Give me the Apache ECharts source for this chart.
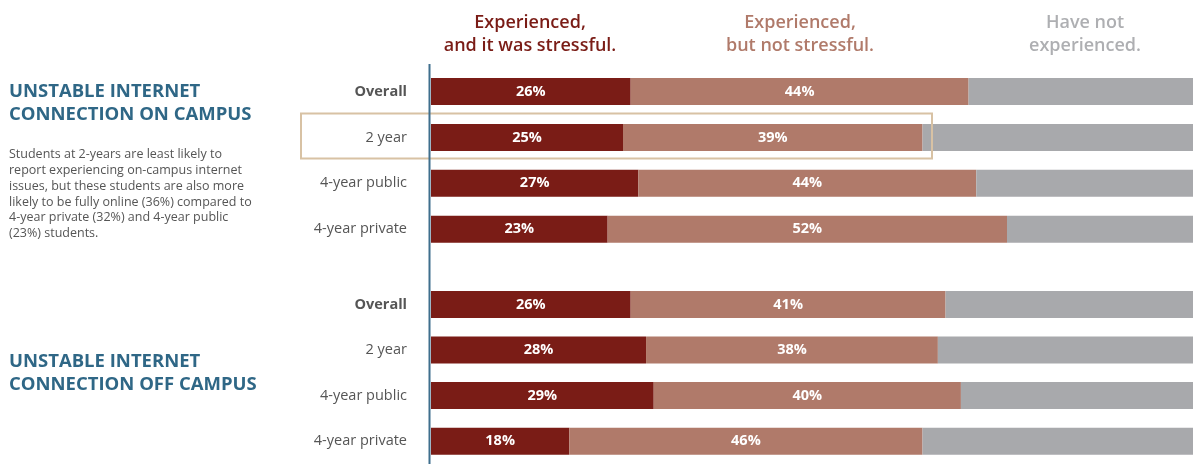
<!DOCTYPE html>
<html>
<head>
<meta charset="utf-8">
<script src="https://cdn.jsdelivr.net/npm/echarts@6/dist/echarts.min.js"></script>
<style>
html,body{margin:0;padding:0;background:#fff;}
#chart{width:1193px;height:464px;}
</style>
</head>
<body>
<div id="chart"></div>
<script>
const categories = ['Overall', '2 year', '4-year public', '4-year private'];
const seriesNames = ['Experienced,\nand it was stressful.', 'Experienced,\nbut not stressful.', 'Have not\nexperienced.'];
const onCampusStressful = [26, 25, 27, 23];
const onCampusNotStressful = [44, 39, 44, 52];
const offCampusStressful = [26, 28, 29, 18];
const offCampusNotStressful = [41, 38, 40, 46];
const groupTitles = ['UNSTABLE INTERNET\nCONNECTION ON CAMPUS', 'UNSTABLE INTERNET\nCONNECTION OFF CAMPUS'];
const note = 'Students at 2-years are least likely to\nreport experiencing on-campus internet\nissues, but these students are also more\nlikely to be fully online (36%) compared to\n4-year private (32%) and 4-year public\n(23%) students.';

const colors = ['#7a1c16', '#b07a6a', '#a8a9ac'];
const FONT = 'Open Sans';

function rest(a, b) { return a.map((v, i) => 100 - v - b[i]); }

const chart = echarts.init(document.getElementById('chart'));

function yAxisFor(idx) {
  return {
    type: 'category', gridIndex: idx, data: categories, inverse: true,
    axisLine: { show: false }, axisTick: { show: false },
    axisLabel: {
      margin: 24, fontFamily: FONT, fontSize: 14.5, color: '#555',
      formatter: (v) => v === 'Overall' ? '{b|' + v + '}' : v,
      rich: { b: { fontFamily: FONT, fontSize: 14.5, fontWeight: 'bold', color: '#555' } }
    }
  };
}
function xAxisFor(idx) {
  return { type: 'value', gridIndex: idx, min: 0, max: 100, show: false };
}
const lbl = { show: true, color: '#fff', fontFamily: FONT, fontWeight: 'bold', fontSize: 14.5, formatter: (p) => p.value + '%' };
function barSeries(idx, name, data, color, showLabel) {
  return {
    type: 'bar', name: name, xAxisIndex: idx, yAxisIndex: idx, stack: 'g' + idx,
    data: data, barWidth: 27, itemStyle: { color: color },
    label: showLabel ? lbl : { show: false }, silent: true, animation: false
  };
}

chart.setOption({
  animation: false,
  grid: [
    { left: 431, width: 768, top: 68.6, height: 183.6, outerBoundsMode: 'none', containLabel: false },
    { left: 431, width: 768, top: 281.6, height: 182.4, outerBoundsMode: 'none', containLabel: false }
  ],
  xAxis: [xAxisFor(0), xAxisFor(1)],
  yAxis: [yAxisFor(0), yAxisFor(1)],
  series: [
    barSeries(0, seriesNames[0], onCampusStressful, colors[0], true),
    barSeries(0, seriesNames[1], onCampusNotStressful, colors[1], true),
    barSeries(0, seriesNames[2], rest(onCampusStressful, onCampusNotStressful), colors[2], false),
    barSeries(1, seriesNames[0], offCampusStressful, colors[0], true),
    barSeries(1, seriesNames[1], offCampusNotStressful, colors[1], true),
    barSeries(1, seriesNames[2], rest(offCampusStressful, offCampusNotStressful), colors[2], false)
  ],
  graphic: [
    { type: 'line', shape: { x1: 429.5, y1: 64, x2: 429.5, y2: 464 }, style: { stroke: '#3f6f8d', lineWidth: 2 }, z: 10 },
    { type: 'rect', shape: { x: 301, y: 113.5, width: 631, height: 45 }, style: { fill: 'none', stroke: '#d8c2a4', lineWidth: 2 }, z: 9 },
    { type: 'text', x: 530, y: 34.5, style: { text: seriesNames[0], fill: colors[0], font: '600 18px "Open Sans"', textAlign: 'center', textVerticalAlign: 'middle', lineHeight: 23 } },
    { type: 'text', x: 800, y: 34.5, style: { text: seriesNames[1], fill: colors[1], font: '600 18px "Open Sans"', textAlign: 'center', textVerticalAlign: 'middle', lineHeight: 23 } },
    { type: 'text', x: 1085, y: 34.5, style: { text: seriesNames[2], fill: '#aeafb2', font: '600 18px "Open Sans"', textAlign: 'center', textVerticalAlign: 'middle', lineHeight: 23 } },
    { type: 'text', left: 9, top: 80, style: { text: groupTitles[0], fill: '#2f6786', font: 'bold 18.5px "Open Sans"', lineHeight: 23 } },
    { type: 'text', left: 9, top: 147, style: { text: note, fill: '#555', font: '12.5px "Open Sans"', lineHeight: 15.7 } },
    { type: 'text', left: 9, top: 350, style: { text: groupTitles[1], fill: '#2f6786', font: 'bold 18.5px "Open Sans"', lineHeight: 23 } }
  ]
});
</script>
</body>
</html>
